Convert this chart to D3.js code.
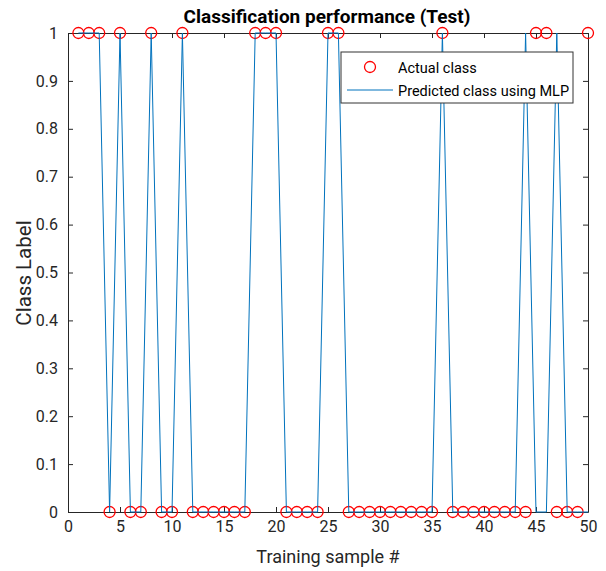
<!DOCTYPE html>
<html>
<head>
<meta charset="utf-8">
<title>Classification performance (Test)</title>
<script src="https://cdn.jsdelivr.net/npm/d3@7"></script>
<style>
  body { margin: 0; background: #fff; }
  text { font-family: Roboto, "Liberation Sans", Arial, sans-serif; }
</style>
</head>
<body>
<script>
// sample index 1..50
var samples = d3.range(1, 51);
var actualClass = [1,1,1,0,1,0,0,1,0,0, 1,0,0,0,0,0,0,1,1,1,
                   0,0,0,0,1,1,0,0,0,0, 0,0,0,0,0,1,0,0,0,0,
                   0,0,0,0,1,1,0,0,0,1];
var predictedClass = [1,1,1,0,1,0,0,1,0,0, 1,0,0,0,0,0,0,1,1,1,
                      0,0,0,0,1,1,0,0,0,0, 0,0,0,0,0,1,0,0,0,0,
                      0,0,0,1,0,0,1,0,0,0];
var xTicks = [0,5,10,15,20,25,30,35,40,45,50];
var yTicks = [0,0.1,0.2,0.3,0.4,0.5,0.6,0.7,0.8,0.9,1];

var width = 606, height = 571;
var plotLeft = 68, plotRight = 588, plotTop = 33, plotBottom = 512;

var svg = d3.select("body").append("svg")
    .attr("width", width)
    .attr("height", height);

var x = d3.scaleLinear().domain([0, 50]).range([plotLeft, plotRight]);
var y = d3.scaleLinear().domain([0, 1]).range([plotBottom, plotTop]);

function fmt(d) { return d === 0 || d === 1 ? String(d) : d.toFixed(1); }

// axes, matlab style ticks pointing inward
svg.append("g").attr("transform", "translate(0," + plotBottom + ")")
    .call(d3.axisBottom(x).tickValues(xTicks).tickSizeInner(-5).tickSizeOuter(0).tickPadding(9));
svg.append("g").attr("transform", "translate(0," + plotTop + ")")
    .call(d3.axisTop(x).tickValues(xTicks).tickSizeInner(-5).tickSizeOuter(0).tickFormat(""));
svg.append("g").attr("transform", "translate(" + plotLeft + ",0)")
    .call(d3.axisLeft(y).tickValues(yTicks).tickSizeInner(-5).tickSizeOuter(0).tickPadding(10).tickFormat(fmt));
svg.append("g").attr("transform", "translate(" + plotRight + ",0)")
    .call(d3.axisRight(y).tickValues(yTicks).tickSizeInner(-5).tickSizeOuter(0).tickFormat(""));

svg.selectAll(".domain").attr("stroke", "#262626");
svg.selectAll(".tick line").attr("stroke", "#262626");
svg.selectAll(".tick text")
    .attr("fill", "#262626")
    .style("font-size", "16px")
    .style("font-family", "Roboto, 'Liberation Sans', Arial, sans-serif");

// actual class markers
svg.append("g").selectAll("circle")
    .data(samples)
    .enter().append("circle")
    .attr("cx", function(d, i) { return x(d); })
    .attr("cy", function(d, i) { return y(actualClass[i]); })
    .attr("r", 5.5)
    .attr("fill", "none")
    .attr("stroke", "#ff0000")
    .attr("stroke-width", 1.3);

// predicted class line
var line = d3.line()
    .x(function(d, i) { return x(d); })
    .y(function(d, i) { return y(predictedClass[i]); });

svg.append("path")
    .datum(samples)
    .attr("d", line)
    .attr("fill", "none")
    .attr("stroke", "#0072bd")
    .attr("stroke-width", 1);

// title and labels
svg.append("text")
    .attr("x", 327)
    .attr("y", 23)
    .attr("text-anchor", "middle")
    .style("font-size", "19px")
    .style("font-weight", "bold")
    .attr("fill", "#000")
    .text("Classification performance (Test)");

svg.append("text")
    .attr("x", (plotLeft + plotRight) / 2)
    .attr("y", 563)
    .attr("text-anchor", "middle")
    .style("font-size", "18px")
    .attr("fill", "#262626")
    .text("Training sample #");

svg.append("text")
    .attr("transform", "translate(31,273) rotate(-90)")
    .attr("text-anchor", "middle")
    .style("font-size", "20.5px")
    .attr("fill", "#262626")
    .text("Class Label");

// legend
var legend = svg.append("g").attr("transform", "translate(341,52)");
legend.append("rect")
    .attr("width", 232)
    .attr("height", 51)
    .attr("fill", "#fff")
    .attr("stroke", "#333")
    .attr("stroke-width", 1);
legend.append("circle")
    .attr("cx", 29).attr("cy", 15).attr("r", 5.5)
    .attr("fill", "none").attr("stroke", "#ff0000").attr("stroke-width", 1.3);
legend.append("text")
    .attr("x", 57).attr("y", 21)
    .style("font-size", "14.5px").attr("fill", "#000")
    .text("Actual class");
legend.append("line")
    .attr("x1", 6).attr("x2", 52).attr("y1", 38).attr("y2", 38)
    .attr("stroke", "#0072bd").attr("stroke-width", 1);
legend.append("text")
    .attr("x", 57).attr("y", 44)
    .style("font-size", "14.5px").attr("fill", "#000")
    .text("Predicted class using MLP");
</script>
</body>
</html>
